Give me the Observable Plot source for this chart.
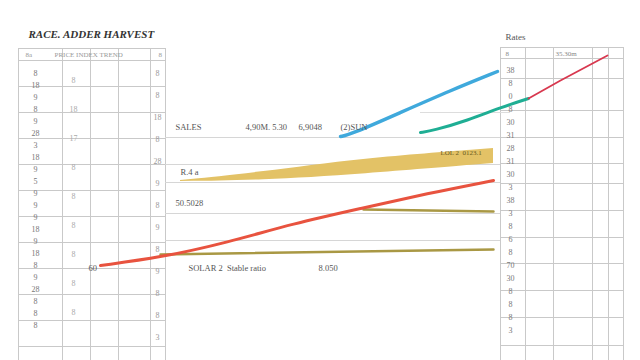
<!DOCTYPE html>
<html><head><meta charset="utf-8">
<script src="https://cdn.jsdelivr.net/npm/d3@7"></script>
<script src="https://cdn.jsdelivr.net/npm/@observablehq/plot@0.6"></script>
<style>body{margin:0;background:#fff}</style>
</head><body><div id="chart"></div>
<script>
// ---- data (x: period units, y: index units) ----
const redWeeks = [10, 16, 22.7, 29.3, 36, 42.7, 49.3];
const redValues = [9.5, 10.3, 11.8, 13.7, 15.2, 16.7, 18.0];
const redLateWeeks = [52.8, 56, 60.7];
const redLateValues = [26.2, 28.0, 30.5];
const blueWeeks = [34, 35, 40, 45, 49.7];
const blueValues = [22.4, 22.6, 24.8, 27.0, 28.9];
const tealWeeks = [42, 43.3, 46.7, 50, 52.8];
const tealValues = [22.8, 23.0, 24.0, 25.3, 26.2];
const goldWeeks = [18, 26, 36, 49.3];
const goldHigh = [18.0, 18.8, 20.2, 21.2];
const goldLow = [17.9, 18.0, 18.6, 19.7];
const oliveAWeeks = [36.3, 49.3];
const oliveAValues = [15.1, 14.9];
const oliveBWeeks = [16, 49.3];
const oliveBValues = [10.6, 11.1];

// table panels
const leftCols = [1.8, 6.2, 9, 11.8, 15, 16.5];
const leftRows = [31.2, 30, 27.4, 24.8, 22.2, 19.6, 17, 14.4, 11.8, 9.2, 6.6, 4, 1.4];
const rightCols = [50, 52.5, 55.3, 59.2, 60.8, 62.3];
const rightRows = [31.3, 30.2, 28.2, 25, 22.3, 19.7, 17.7, 15, 12.3, 9.7, 7, 4.3, 1.5];
const midRules = [22.3, 19.6, 17.8, 14.7, 12.0];

const leftColALabels = ["8","18","9","8","9","28","3","18","9","5","9","9","9","18","9","18","8","9","28","8","8","8"];
const leftColBLabels = ["8","18","17","8","8","8","8","8","8"];
const leftColCLabels = ["8","8","18","8","28","9","8","9","8","9","8","8","3"];
const rightColLabels = ["38","8","0","8","30","31","28","31","30","3","38","3","8","6","8","70","30","8","8","8","3"];

const titleText = "RACE. ADDER HARVEST";
const leftHeader = ["8a", "PRICE INDEX TREND", "8"];
const rightTitle = "Rates";
const rightHeader = ["8", "35.30m"];
const midLabels = [
  {x: 17.5, y: 23.3, t: "SALES"},
  {x: 24.5, y: 23.3, t: "4,90M. 5.30"},
  {x: 29.8, y: 23.3, t: "6,9048"},
  {x: 34.0, y: 23.3, t: "(2)SUN"},
  {x: 18.0, y: 18.8, t: "R.4 a"},
  {x: 17.5, y: 15.7, t: "50.5028"},
  {x: 18.8, y: 9.2, t: "SOLAR 2  Stable ratio"},
  {x: 31.8, y: 9.2, t: "8.050"},
  {x: 8.8, y: 9.2, t: "60"}
];
const goldTag = "LOL 2  0123.1";

// ---- build ----
const line = (xs, ys) => xs.map((x, i) => ({x, y: ys[i]}));
const gold = goldWeeks.map((x, i) => ({x, hi: goldHigh[i], lo: goldLow[i]}));
const px2y = v => 36 - v / 10;

const leftA = leftColALabels.map((t, i) => ({x: 3.5, y: px2y(73 + i * 12), t}));
const leftB = leftColBLabels.map((t, i) => ({x: 7.3, y: px2y(80 + i * 29), t}));
const leftC = leftColCLabels.map((t, i) => ({x: 15.7, y: px2y(73 + i * 22), t}));
const rightL = rightColLabels.map((t, i) => ({x: 51.0, y: px2y(70 + i * 13), t}));

const grid = "#c9c9c9";
const font = "Liberation Serif";

const chart = Plot.plot({
  width: 640, height: 360,
  marginLeft: 0, marginRight: 0, marginTop: 0, marginBottom: 0,
  x: {domain: [0, 64], axis: null},
  y: {domain: [0, 36], axis: null},
  style: {fontFamily: font, background: "#fff"},
  marks: [
    // left panel grid
    Plot.ruleX(leftCols, {y1: 0, y2: leftRows[0], stroke: grid, strokeWidth: 1}),
    Plot.ruleY(leftRows, {x1: leftCols[0], x2: leftCols[leftCols.length - 1], stroke: grid, strokeWidth: 1}),
    // right panel grid
    Plot.ruleX(rightCols, {y1: 0, y2: rightRows[0], stroke: grid, strokeWidth: 1}),
    Plot.ruleY(rightRows, {x1: rightCols[0], x2: rightCols[rightCols.length - 1], stroke: grid, strokeWidth: 1}),
    // middle rules
    Plot.ruleY(midRules, {x1: 16.5, x2: 50, stroke: "#d6d6d6", strokeWidth: 1}),
    Plot.ruleY([24.8], {x1: 42, x2: 51, stroke: "#dddddd", strokeWidth: 1}),
    // gold band
    Plot.areaY(gold, {x: "x", y1: "lo", y2: "hi", fill: "#e3c266", curve: "basis"}),
    // olive lines
    Plot.line(line(oliveAWeeks, oliveAValues), {x: "x", y: "y", stroke: "#a99844", strokeWidth: 2.5}),
    Plot.line(line(oliveBWeeks, oliveBValues), {x: "x", y: "y", stroke: "#a99844", strokeWidth: 2.5}),
    // series lines
    Plot.line(line(redWeeks, redValues), {x: "x", y: "y", stroke: "#e8533f", strokeWidth: 3, curve: "basis"}),
    Plot.line(line(blueWeeks, blueValues), {x: "x", y: "y", stroke: "#3fa9dc", strokeWidth: 3.5, curve: "basis"}),
    Plot.line(line(tealWeeks, tealValues), {x: "x", y: "y", stroke: "#1fae94", strokeWidth: 3, curve: "basis"}),
    Plot.line(line(redLateWeeks, redLateValues), {x: "x", y: "y", stroke: "#d8384f", strokeWidth: 1.8}),
    // texts
    Plot.text([titleText], {x: 2.8, y: px2y(34), text: d => d, textAnchor: "start", fontSize: 11, fontStyle: "italic", fontWeight: "bold", fill: "#333"}),
    Plot.text([rightTitle], {x: 50.5, y: px2y(37), text: d => d, textAnchor: "start", fontSize: 9, fill: "#555"}),
    Plot.text(leftHeader.map((t, i) => ({t, x: [2.5, 5.4, 15.8][i]})), {x: "x", y: px2y(54), text: "t", textAnchor: "start", fontSize: 7, fill: "#999"}),
    Plot.text(rightHeader.map((t, i) => ({t, x: [50.5, 55.5][i]})), {x: "x", y: px2y(53), text: "t", textAnchor: "start", fontSize: 7, fill: "#888"}),
    Plot.text(leftA, {x: "x", y: "y", text: "t", fontSize: 8, fill: "#777"}),
    Plot.text(leftB, {x: "x", y: "y", text: "t", fontSize: 8, fill: "#aaa"}),
    Plot.text(leftC, {x: "x", y: "y", text: "t", fontSize: 8, fill: "#999"}),
    Plot.text(rightL, {x: "x", y: "y", text: "t", fontSize: 8, fill: "#777"}),
    Plot.text(midLabels, {x: "x", y: "y", text: "t", textAnchor: "start", fontSize: 8.5, fill: "#555"}),
    Plot.text([goldTag], {x: 44, y: px2y(152), text: d => d, textAnchor: "start", fontSize: 7, fill: "#6a5a20"})
  ]
});
document.getElementById("chart").append(chart);
</script>
</body></html>
